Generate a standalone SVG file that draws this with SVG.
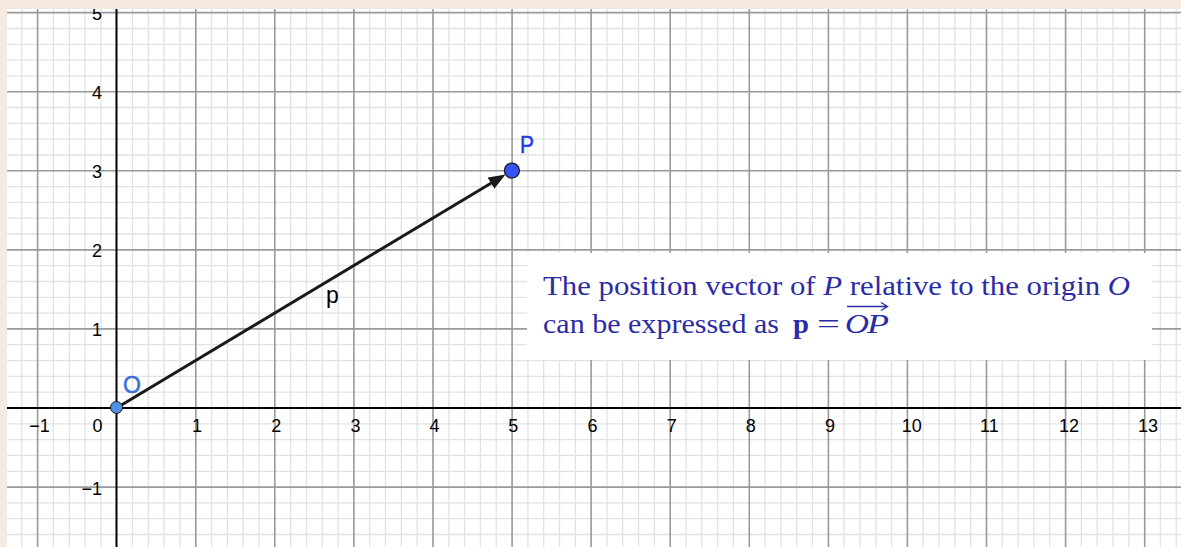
<svg xmlns="http://www.w3.org/2000/svg" width="1181" height="547" viewBox="0 0 1181 547">
<style>
.minor{stroke:#e2e2e2;stroke-width:1.3;fill:none}
.major{stroke:#9a9a9a;stroke-width:1.6;fill:none}
.axis{stroke:#000;stroke-width:2;fill:none}
.tick{font-family:"Liberation Sans",Arial,sans-serif;font-size:18px;fill:#000}
.tx{text-anchor:middle}
.ty{text-anchor:end}
.note{font-family:"Liberation Serif","Times New Roman",serif;font-size:27px;fill:#2b2ba6}
.pt{font-family:"Liberation Sans",Arial,sans-serif;font-size:23px}
</style>
<defs>
<marker id="arr" markerUnits="userSpaceOnUse" markerWidth="18" markerHeight="13" refX="1" refY="6.5" orient="auto">
<path d="M0,0 L17,6.5 L0,13 z" fill="#1a1a1a"/>
</marker>
</defs>
<rect x="0" y="0" width="1181" height="547" fill="#ffffff"/>
<g id="grid">
<path class="minor" transform="translate(0.7,0)" d="M21.1,9V547M52.7,9V547M68.6,9V547M84.4,9V547M100.2,9V547M131.8,9V547M147.6,9V547M163.4,9V547M179.3,9V547M210.9,9V547M226.7,9V547M242.5,9V547M258.3,9V547M290,9V547M305.8,9V547M321.6,9V547M337.4,9V547M369,9V547M384.8,9V547M400.7,9V547M416.5,9V547M448.1,9V547M463.9,9V547M479.7,9V547M495.5,9V547M527.2,9V547M543,9V547M558.8,9V547M574.6,9V547M606.2,9V547M622,9V547M637.8,9V547M653.7,9V547M685.3,9V547M701.1,9V547M716.9,9V547M732.7,9V547M764.4,9V547M780.2,9V547M796,9V547M811.8,9V547M843.4,9V547M859.3,9V547M875.1,9V547M890.9,9V547M922.5,9V547M938.3,9V547M954.1,9V547M970,9V547M1001.6,9V547M1017.4,9V547M1033.2,9V547M1049,9V547M1080.7,9V547M1096.5,9V547M1112.3,9V547M1128.1,9V547M1159.7,9V547M1175.5,9V547"/>
<path class="minor" d="M7,534.5H1181M7,518.7H1181M7,502.9H1181M7,471.3H1181M7,455.4H1181M7,439.6H1181M7,423.8H1181M7,392.2H1181M7,376.4H1181M7,360.6H1181M7,344.7H1181M7,313.1H1181M7,297.3H1181M7,281.5H1181M7,265.7H1181M7,234H1181M7,218.2H1181M7,202.4H1181M7,186.6H1181M7,155H1181M7,139.2H1181M7,123.3H1181M7,107.5H1181M7,75.9H1181M7,60.1H1181M7,44.3H1181M7,28.5H1181"/>
<path class="major" transform="translate(0.7,0)" d="M36.9,9V547M195.1,9V547M274.1,9V547M353.2,9V547M432.3,9V547M511.4,9V547M590.4,9V547M669.5,9V547M748.6,9V547M827.7,9V547M906.7,9V547M985.8,9V547M1064.9,9V547M1144,9V547"/>
<path class="major" d="M7,487.1H1181M7,328.9H1181M7,249.9H1181M7,170.8H1181M7,91.7H1181M7,12.6H1181"/>
</g>
<g id="axes">
<path class="axis" d="M7,408H1181M116.5,9V547"/>
</g>
<g id="tick-labels" class="tick">
<text class="tx" x="39.5" y="432">−1</text>
<text class="tx" x="97.5" y="432">0</text>
<text class="tx" x="197" y="432">1</text>
<text class="tx" x="276.3" y="432">2</text>
<text class="tx" x="355.4" y="432">3</text>
<text class="tx" x="434.5" y="432">4</text>
<text class="tx" x="513.3" y="432">5</text>
<text class="tx" x="592.6" y="432">6</text>
<text class="tx" x="671.7" y="432">7</text>
<text class="tx" x="750.8" y="432">8</text>
<text class="tx" x="829.9" y="432">9</text>
<text class="tx" x="911.7" y="432">10</text>
<text class="tx" x="989.3" y="432">11</text>
<text class="tx" x="1069" y="432">12</text>
<text class="tx" x="1148" y="432">13</text>
<text class="ty" x="102" y="19.5">5</text>
<text class="ty" x="102" y="98.7">4</text>
<text class="ty" x="102" y="177.8">3</text>
<text class="ty" x="102" y="256.9">2</text>
<text class="ty" x="102" y="335.9">1</text>
<text class="ty" x="102" y="495">−1</text>
</g>
<g id="note">
<rect x="527" y="253" width="625" height="107" fill="#ffffff"/>
<text class="note" x="543" y="295" textLength="587" lengthAdjust="spacingAndGlyphs">The position vector of <tspan font-style="italic">P</tspan> relative to the origin <tspan font-style="italic">O</tspan></text>
<text class="note" x="543" y="333" textLength="236" lengthAdjust="spacingAndGlyphs">can be expressed as</text>
<text class="note" x="793" y="333" font-weight="bold" textLength="16" lengthAdjust="spacingAndGlyphs">p</text>
<text class="note" x="817" y="333" textLength="23" lengthAdjust="spacingAndGlyphs">=</text>
<text class="note" x="845" y="333" font-style="italic" textLength="24" lengthAdjust="spacingAndGlyphs">O</text>
<text class="note" x="867" y="333" font-style="italic" textLength="22" lengthAdjust="spacingAndGlyphs">P</text>
<path d="M847,306.5H887M881,302.5L887.5,306.5L881,310.5" fill="none" stroke="#2b2ba6" stroke-width="1.3"/>
</g>
<g id="connectors">
<line id="vector-p" x1="116.5" y1="408" x2="491.8" y2="182.7" stroke="#1a1a1a" stroke-width="3" marker-end="url(#arr)"/>
<text class="pt" x="326" y="303" fill="#000">p</text>
</g>
<g id="node-O">
<circle cx="116.5" cy="407.5" r="6" fill="#4f8fe6" stroke="#1a1a1a" stroke-width="1"/>
<text class="pt" x="123" y="392.5" fill="#3a6fd8" stroke="#3a6fd8" stroke-width="0.5">O</text>
</g>
<g id="node-P">
<circle cx="511.9" cy="170.6" r="7.5" fill="#3553f2" stroke="#1a1a1a" stroke-width="1.3"/>
<text class="pt" x="520" y="153" font-size="24" textLength="14" lengthAdjust="spacingAndGlyphs" fill="#1f3be3" stroke="#1f3be3" stroke-width="0.5">P</text>
</g>
<g id="frame">
<rect x="0" y="0" width="1181" height="9" fill="#f6e9df"/>
<rect x="0" y="0" width="7" height="547" fill="#f6e9df"/>
</g>
</svg>
